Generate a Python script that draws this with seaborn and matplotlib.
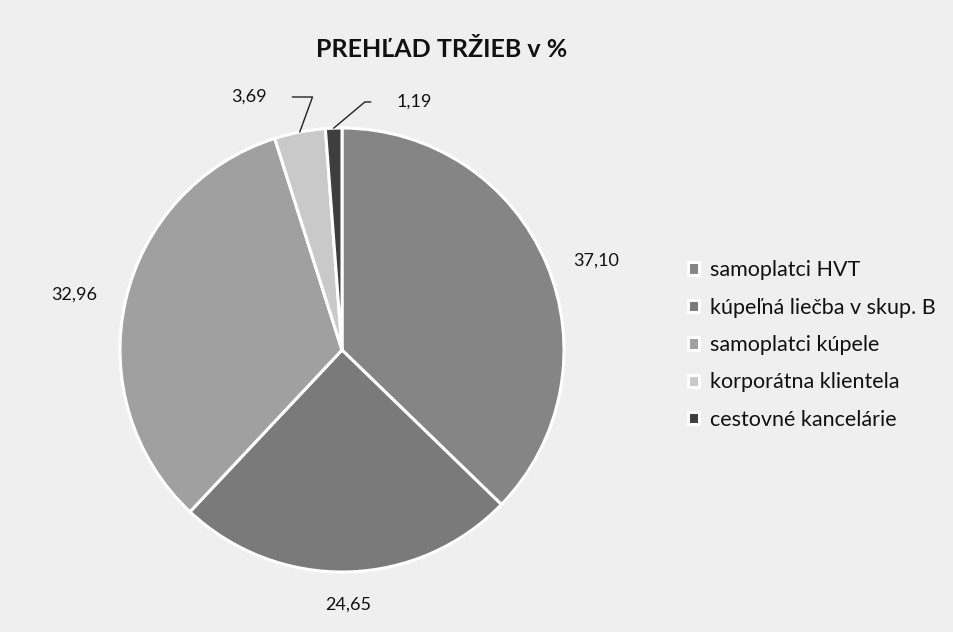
import numpy as np
import seaborn as sns
import matplotlib.pyplot as plt

categories = ["samoplatci HVT", "kúpeľná liečba v skup. B", "samoplatci kúpele",
              "korporátna klientela", "cestovné kancelárie"]
values = [37.10, 24.65, 32.96, 3.69, 1.19]
labels = ["37,10", "24,65", "32,96", "3,69", "1,19"]
colors = ["#858585", "#7a7a7a", "#a0a0a0", "#c9c9c9", "#3e3e3e"]

sns.set_style("white")
plt.rcParams['font.family'] = ['Lato', 'DejaVu Sans']

bg = "#efefef"
fig = plt.figure(figsize=(9.54, 6.32), dpi=100, facecolor=bg)
ax = fig.add_axes([0, 0, 1, 1])
ax.set_facecolor(bg)

# pie in pixel coordinates
cx, cy, R = 342, 282, 222
wedges, _ = ax.pie(values, colors=colors, startangle=90, counterclock=False,
                   center=(cx, cy), radius=R, frame=True,
                   wedgeprops=dict(edgecolor="white", linewidth=2.2))
ax.set_xlim(0, 954)
ax.set_ylim(0, 632)
ax.set_aspect("equal")
ax.axis("off")

# data labels for the big slices
lab_pos = [(1.13, "left", "top"), (1.11, "center", "top"), (1.13, "right", "center")]
for w, lab, (d, ha, va) in zip(wedges[:3], labels[:3], lab_pos):
    mid = np.deg2rad((w.theta1 + w.theta2) / 2)
    ax.text(cx + d * R * np.cos(mid), cy + d * R * np.sin(mid), lab,
            ha=ha, va=va, fontsize=13, color="#111111")

# small slices with leader lines
w3, w4 = wedges[3], wedges[4]
m3 = np.deg2rad((w3.theta1 + w3.theta2) / 2)
m4 = np.deg2rad((w4.theta1 + w4.theta2) / 2)
ax.annotate(labels[3], xy=(cx + R * np.cos(m3), cy + R * np.sin(m3)),
            xytext=(249, 535), ha="center", va="center", fontsize=13, color="#111111",
            arrowprops=dict(arrowstyle="-", color="#222222", lw=1,
                            shrinkA=16, shrinkB=0,
                            connectionstyle="angle,angleA=0,angleB=70,rad=0"))
ax.annotate(labels[4], xy=(cx + R * np.cos(m4), cy + R * np.sin(m4)),
            xytext=(414, 530), ha="center", va="center", fontsize=13, color="#111111",
            arrowprops=dict(arrowstyle="-", color="#222222", lw=1,
                            shrinkA=16, shrinkB=0,
                            connectionstyle="angle,angleA=180,angleB=40,rad=0"))

fig.text(0.463, 0.921, "PREHĽAD TRŽIEB v %", ha="center", va="center",
         fontsize=18, fontweight="bold", color="#111111")

leg = ax.legend(wedges, categories, loc="upper left", bbox_to_anchor=(0.701, 0.619),
                bbox_transform=fig.transFigure, frameon=False, fontsize=15.5,
                handlelength=0.5, handleheight=0.5, handletextpad=0.5,
                labelspacing=0.81)
for t in leg.get_texts():
    t.set_color("#111111")

fig.savefig("out.png", dpi=100, facecolor=bg)
